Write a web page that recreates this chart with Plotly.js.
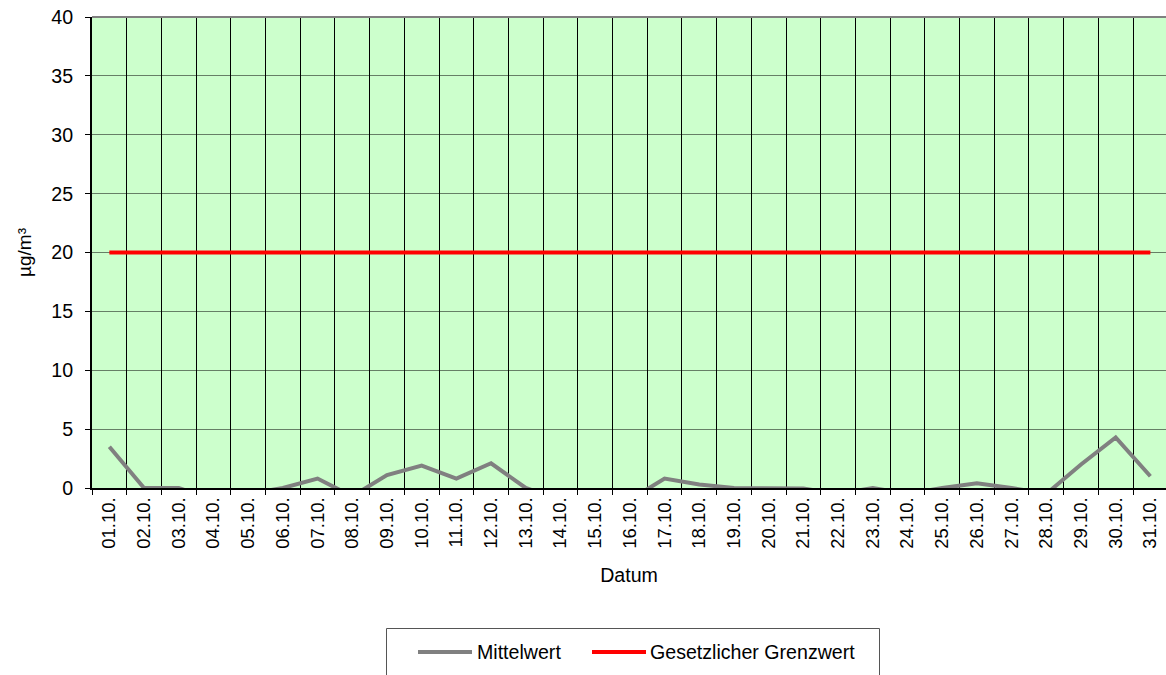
<!DOCTYPE html>
<html>
<head>
<meta charset="utf-8">
<script src="https://cdn.plot.ly/plotly-3.0.1.min.js"></script>
<style>html,body{margin:0;padding:0;background:#fff;}#chart{width:1166px;height:675px;}</style>
</head>
<body>
<div id="chart"></div>
<script>
const dates = ["01.10.","02.10.","03.10.","04.10.","05.10.","06.10.","07.10.","08.10.","09.10.","10.10.",
  "11.10.","12.10.","13.10.","14.10.","15.10.","16.10.","17.10.","18.10.","19.10.","20.10.",
  "21.10.","22.10.","23.10.","24.10.","25.10.","26.10.","27.10.","28.10.","29.10.","30.10.","31.10."];
const mittelwert = [3.5,0.0,0.0,-1.0,-0.5,0.0,0.8,-0.7,1.1,1.9,
  0.8,2.1,0.0,-1.0,-1.0,-1.0,0.8,0.3,0.0,-0.05,
  -0.05,-0.5,0.0,-0.5,0.0,0.4,0.0,-0.5,2.0,4.3,1.0];
const grenzwert = [20,20,20,20,20,20,20,20,20,20,20,20,20,20,20,20,20,20,20,20,20,20,20,20,20,20,20,20,20,20,20];
const seriesNames = ["Mittelwert","Gesetzlicher Grenzwert"];
const yTicks = [0,5,10,15,20,25,30,35,40];

const FONT = "Liberation Sans, Arial, sans-serif";
const traces = [
  {x: dates, y: mittelwert, type: "scatter", mode: "lines", name: seriesNames[0],
   line: {color: "#808080", width: 4}, showlegend: false},
  {x: dates, y: grenzwert, type: "scatter", mode: "lines", name: seriesNames[1],
   line: {color: "#FF0000", width: 4}, showlegend: false}
];

// legend drawn in paper coordinates
const px = v => (v - 92) / 1074;
const py = v => (488 - v) / 471;
const shapes = [
  {type: "line", xref: "paper", yref: "paper", x0: 0, x1: 1, y0: 1, y1: 1,
   line: {color: "#808080", width: 2}},
  {type: "rect", xref: "paper", yref: "paper", x0: px(386.5), x1: px(879.5), y0: py(628.5), y1: py(700),
   line: {color: "#555555", width: 1}, fillcolor: "#FFFFFF"},
  {type: "line", xref: "paper", yref: "paper", x0: px(418), x1: px(472), y0: py(652), y1: py(652),
   line: {color: "#808080", width: 4}},
  {type: "line", xref: "paper", yref: "paper", x0: px(592), x1: px(646), y0: py(652), y1: py(652),
   line: {color: "#FF0000", width: 4}}
];
const annotations = [
  {xref: "paper", yref: "paper", x: px(475), y: py(652), xanchor: "left", yanchor: "middle",
   text: seriesNames[0], showarrow: false, font: {family: FONT, size: 19.6, color: "#000"}},
  {xref: "paper", yref: "paper", x: px(648), y: py(652), xanchor: "left", yanchor: "middle",
   text: seriesNames[1], showarrow: false, font: {family: FONT, size: 19.6, color: "#000"}}
];

const layout = {
  width: 1166, height: 675,
  margin: {l: 92, r: 0, t: 17, b: 187, pad: 0},
  paper_bgcolor: "#FFFFFF",
  plot_bgcolor: "#CCFFCC",
  font: {family: FONT, size: 19, color: "#000"},
  showlegend: false,
  xaxis: {
    type: "category", categoryorder: "array", categoryarray: dates,
    range: [-0.5, 30.45], tickson: "boundaries",
    showgrid: true, gridcolor: "#000000", gridwidth: 1,
    showline: true, linecolor: "#000000", linewidth: 2,
    ticks: "outside", ticklen: 5, tickcolor: "#000000", tickwidth: 1,
    tickangle: -90, tickfont: {family: FONT, size: 18.5},
    title: {text: "Datum", font: {family: FONT, size: 19.6}, standoff: 20},
    automargin: false, fixedrange: true
  },
  yaxis: {
    range: [0, 40], tickvals: yTicks, ticktext: yTicks.map(String),
    showgrid: true, gridcolor: "rgba(0,0,0,0.5)", gridwidth: 1, zeroline: false,
    showline: true, linecolor: "#000000", linewidth: 2,
    ticks: "outside", ticklen: 5, tickcolor: "#000000", tickwidth: 1,
    tickfont: {family: FONT, size: 19.6}, ticklabelstandoff: 8,
    title: {text: "µg/m³", font: {family: FONT, size: 19}, standoff: 15},
    automargin: false, fixedrange: true
  },
  shapes: shapes,
  annotations: annotations
};

Plotly.newPlot("chart", traces, layout, {staticPlot: true, displayModeBar: false});
</script>
</body>
</html>
